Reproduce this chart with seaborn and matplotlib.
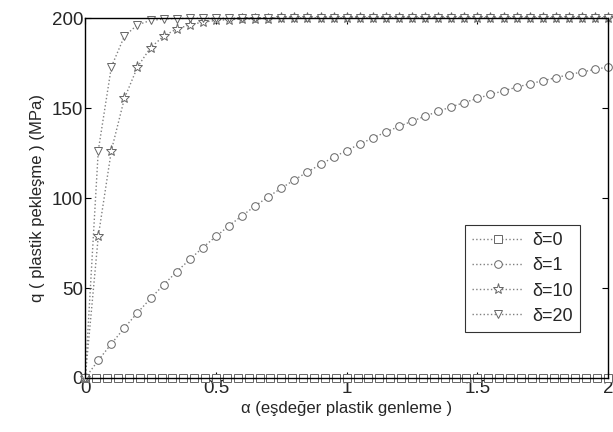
import matplotlib
matplotlib.use("Agg")
import matplotlib.pyplot as plt
import pandas as pd
import seaborn as sns

# alpha grid used for delta=0 (finer step) and for the other curves
alpha_0 = [0, 0.042, 0.083, 0.125, 0.167, 0.208, 0.25, 0.292, 0.333, 0.375,
           0.417, 0.458, 0.5, 0.542, 0.583, 0.625, 0.667, 0.708, 0.75, 0.792,
           0.833, 0.875, 0.917, 0.958, 1.0, 1.042, 1.083, 1.125, 1.167, 1.208,
           1.25, 1.292, 1.333, 1.375, 1.417, 1.458, 1.5, 1.542, 1.583, 1.625,
           1.667, 1.708, 1.75, 1.792, 1.833, 1.875, 1.917, 1.958, 2.0]
alpha = [0, 0.05, 0.1, 0.15, 0.2, 0.25, 0.3, 0.35, 0.4, 0.45,
         0.5, 0.55, 0.6, 0.65, 0.7, 0.75, 0.8, 0.85, 0.9, 0.95,
         1.0, 1.05, 1.1, 1.15, 1.2, 1.25, 1.3, 1.35, 1.4, 1.45,
         1.5, 1.55, 1.6, 1.65, 1.7, 1.75, 1.8, 1.85, 1.9, 1.95, 2.0]

q_d0 = [0] * 49
q_d1 = [0, 9.8, 19.0, 27.9, 36.3, 44.2, 51.8, 59.1, 65.9, 72.5,
        78.7, 84.6, 90.2, 95.6, 100.7, 105.5, 110.1, 114.5, 118.7, 122.7,
        126.4, 130.0, 133.4, 136.7, 139.8, 142.7, 145.5, 148.2, 150.7, 153.1,
        155.4, 157.6, 159.6, 161.6, 163.5, 165.2, 166.9, 168.6, 170.1, 171.5, 172.9]
q_d10 = [0, 78.7, 126.4, 155.4, 172.9, 183.6, 190.0, 194.0, 196.3, 197.8,
         198.7, 199.2, 199.5, 199.7, 199.8, 199.9, 200, 200, 200, 200,
         200, 200, 200, 200, 200, 200, 200, 200, 200, 200,
         200, 200, 200, 200, 200, 200, 200, 200, 200, 200, 200]
q_d20 = [0, 126.4, 172.9, 190.0, 196.3, 198.7, 199.5, 199.8, 199.9, 200,
         200, 200, 200, 200, 200, 200, 200, 200, 200, 200,
         200, 200, 200, 200, 200, 200, 200, 200, 200, 200,
         200, 200, 200, 200, 200, 200, 200, 200, 200, 200, 200]

labels = ["δ=0", "δ=1", "δ=10", "δ=20"]
markers = ["s", "o", "*", "v"]

sns.set_theme(style="ticks")
plt.rcParams["font.family"] = ["Liberation Sans", "DejaVu Sans"]
plt.rcParams["xtick.direction"] = "in"
plt.rcParams["ytick.direction"] = "in"

fig = plt.figure(figsize=(6.13, 4.32), dpi=100)
ax = fig.add_axes([0.139, 0.125, 0.853, 0.833])

series = [(alpha_0, q_d0), (alpha, q_d1), (alpha, q_d10), (alpha, q_d20)]
for (xs, ys), lab, mk in zip(series, labels, markers):
    df = pd.DataFrame({"a": xs, "q": ys})
    sns.lineplot(data=df, x="a", y="q", ax=ax, label=lab, color="0.5",
                 linestyle=":", linewidth=1.0, marker=mk,
                 markersize=8 if mk == "*" else 5.5, markerfacecolor="white",
                 markeredgecolor="0.4", markeredgewidth=0.7, clip_on=False)

ax.set_xlim(0, 2)
ax.set_ylim(0, 200)
ax.set_xticks([0, 0.5, 1, 1.5, 2])
ax.set_xticklabels(["0", "0.5", "1", "1.5", "2"])
ax.set_yticks([0, 50, 100, 150, 200])
ax.tick_params(axis="both", labelsize=13.5, top=True, right=True,
               length=4, width=0.8, color="black", pad=1.5)
for s in ax.spines.values():
    s.set_visible(True)
    s.set_color("black")
    s.set_linewidth(1.0)

ax.set_xlabel("α (eşdeğer plastik genleme )", fontsize=12, labelpad=3)
ax.set_ylabel("q ( plastik pekleşme ) (MPa)", fontsize=12, labelpad=5)

leg = ax.legend(loc="lower right", bbox_to_anchor=(0.946, 0.128),
                borderaxespad=0, fontsize=13, frameon=True, fancybox=False,
                handlelength=2.8, handletextpad=0.5, borderpad=0.4,
                labelspacing=0.45)
leg.get_frame().set_edgecolor("black")
leg.get_frame().set_linewidth(0.8)

fig.savefig("out.png", dpi=100)
plt.close(fig)
